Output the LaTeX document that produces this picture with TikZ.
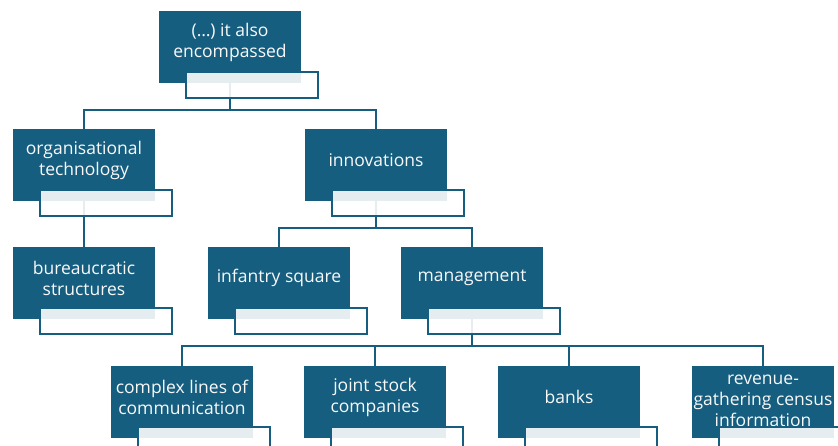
\documentclass[tikz,border=0pt]{standalone}
\usepackage{fontspec}
\setmainfont{Open Sans}
\usepackage{xcolor}
\usepackage{tikz}
\usetikzlibrary{positioning, calc}

\definecolor{deepteal}{RGB}{22,94,128}

\begin{document}
\begin{tikzpicture}[x=1pt, y=-1pt,
    box/.style={fill=deepteal, minimum width=142pt, minimum height=72pt, inner sep=0pt},
    words/.style={text=white!95!gray, align=center, font=\fontsize{17.5}{21}\selectfont, inner sep=0pt},
    tag/.style={draw=deepteal, line width=2pt, fill=white, fill opacity=0.89,
                minimum width=132pt, minimum height=26pt, inner sep=0pt},
    link/.style={draw=deepteal, line width=2.5pt}]
    \clip (0,0) rectangle (838,446);

    % top
    \node[box] (root) at (230,47) {};
    \node[words] (root-t) at (230,42) {(…) it also\\encompassed};

    % second row
    \node[box] (orgtech) at (84,165) {};
    \node[words] (orgtech-t) at (84,160) {organisational\\technology};
    \node[box] (innov) at (376,165) {};
    \node[words] (innov-t) at (376,160) {innovations};

    % third row
    \node[box] (bureau) at (84,283) {};
    \node[words] (bureau-t) at (84,278) {bureaucratic\\structures};
    \node[box] (infantry) at (279,283) {};
    \node[words] (infantry-t) at (279,278) {infantry square};
    \node[box] (mgmt) at (472,283) {};
    \node[words] (mgmt-t) at (472,278) {management};

    % bottom row
    \node[box] (lines) at (182,402) {};
    \node[words] (lines-t) at (182,397) {complex lines of\\communication};
    \node[box] (stock) at (375,402) {};
    \node[words] (stock-t) at (375,397) {joint stock\\companies};
    \node[box] (banks) at (569,402) {};
    \node[words] (banks-t) at (569,397) {banks};
    \node[box] (census) at (763,402) {};
    \node[words] (census-t) at (763,401) {revenue-\\gathering census\\information};

    % connectors
    \draw[link] (root.south) -- ++(0,27) -| (orgtech.north);
    \draw[link] (root.south) -- ++(0,27) -| (innov.north);
    \draw[link] (orgtech.south) -- (bureau.north);
    \draw[link] (innov.south) -- ++(0,27) -| (infantry.north);
    \draw[link] (innov.south) -- ++(0,27) -| (mgmt.north);
    \foreach \c in {lines, stock, banks, census}
        \draw[link] (mgmt.south) -- ++(0,27) -| (\c.north);

    % light tabs over the boxes
    \foreach \n in {root, orgtech, innov, bureau, infantry, mgmt, lines, stock, banks, census}
        \node[tag] (\n-tab) at ([xshift=22pt, yshift=-2pt]\n.south) {};
\end{tikzpicture}
\end{document}
